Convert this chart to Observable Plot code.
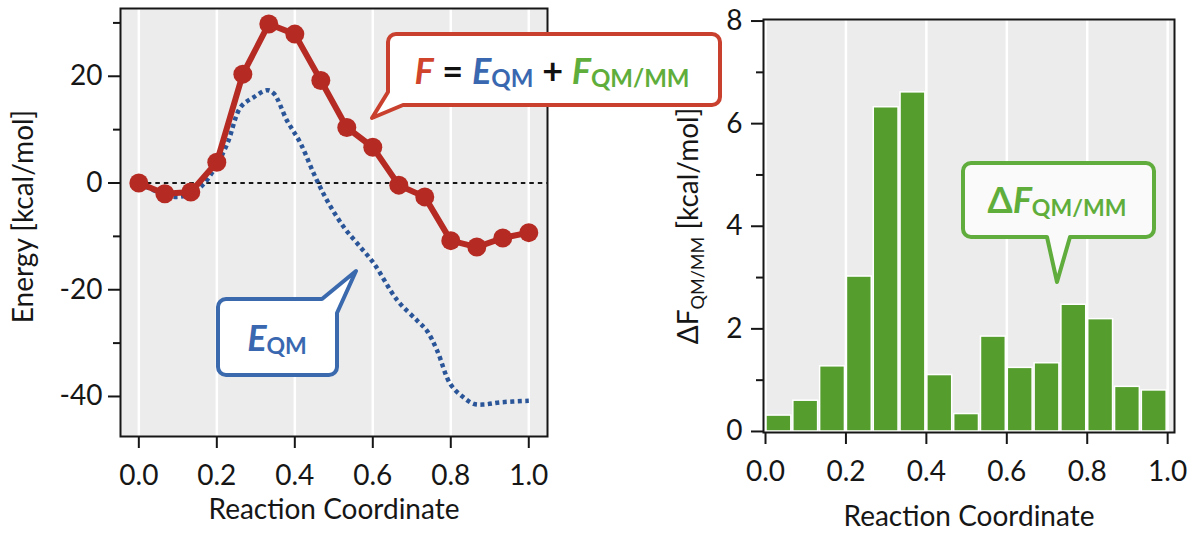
<!DOCTYPE html>
<html><head><meta charset="utf-8">
<script src="https://cdn.jsdelivr.net/npm/d3@7"></script>
<script src="https://cdn.jsdelivr.net/npm/@observablehq/plot@0.6"></script>
<style>
html,body{margin:0;padding:0;background:#fff;}
#wrap{position:relative;width:1197px;height:533px;overflow:hidden;font-family:Lato,sans-serif;}
#left{position:absolute;left:0;top:0;}
#right{position:absolute;left:600px;top:0;}
#overlay{position:absolute;left:0;top:0;}
</style></head><body>
<div id="wrap"><div id="left"></div><div id="right"></div><svg id="overlay" width="1197" height="533"></svg></div>
<script>
// ---- data ----
const coord = [0, 0.0667, 0.1333, 0.2, 0.2667, 0.3333, 0.4, 0.4667, 0.5333, 0.6, 0.6667, 0.7333, 0.8, 0.8667, 0.9333, 1.0];
const freeEnergy = [0, -2.0, -1.7, 3.9, 20.4, 29.8, 27.9, 19.2, 10.4, 6.7, -0.4, -2.6, -10.8, -12.0, -10.3, -9.3];
const eqmCoord = [0, 0.033, 0.067, 0.098, 0.13, 0.158, 0.192, 0.227, 0.261, 0.295, 0.329, 0.346, 0.38, 0.415, 0.449, 0.483, 0.526, 0.568, 0.603, 0.663, 0.714, 0.739, 0.765, 0.799, 0.833, 0.859, 0.885, 0.927, 1.0];
const eqmEnergy = [0, -1.2, -2.2, -2.6, -2.1, -0.8, 2.4, 7.4, 14.2, 16.1, 17.4, 16.8, 11.7, 7.4, 1.7, -3.3, -8.3, -12.0, -15.1, -22.0, -25.8, -27.7, -31.4, -37.7, -40.2, -41.4, -41.5, -41.1, -40.8];
const dFqmmm = [0.31, 0.6, 1.27, 3.02, 6.32, 6.61, 1.1, 0.34, 1.85, 1.24, 1.33, 2.47, 2.19, 0.87, 0.8];
const xTicks = [0, 0.2, 0.4, 0.6, 0.8, 1.0];
const yTicksLeft = [-40, -20, 0, 20];
const yMinorLeft = [-30, -10, 10, 30];
const yTicksRight = [0, 2, 4, 6, 8];
const yMinorRight = [1, 3, 5, 7];

// ---- tables ----
const fTable = coord.map((x, i) => ({x, y: freeEnergy[i]}));
const eqmTable = eqmCoord.map((x, i) => ({x, y: eqmEnergy[i]}));
const bars = dFqmmm.map((v, i) => ({x1: coord[i], x2: coord[i + 1], v}));

const FONT = "Lato, 'Open Sans', sans-serif";
const INK = "#161616";
const leftX = [-0.047, 1.048];
const baseStyle = {fontFamily: FONT, fontSize: "28px", color: INK, background: "transparent", overflow: "visible"};

const left = Plot.plot({
  width: 560, height: 533,
  marginLeft: 120, marginRight: 13, marginTop: 8, marginBottom: 97,
  style: baseStyle,
  x: {domain: leftX, label: null},
  y: {domain: [-47.5, 32.7], label: null},
  marks: [
    Plot.frame({fill: "#ececec"}),
    Plot.ruleX(xTicks, {stroke: "white", strokeWidth: 2.5}),
    Plot.ruleY([0], {x1: 0, x2: leftX[1], stroke: INK, strokeWidth: 2.2, strokeDasharray: "4.5,4"}),
    Plot.line(eqmTable, {x: "x", y: "y", stroke: "#2a5598", strokeWidth: 4.5, strokeDasharray: "4,3.5", strokeLinecap: "butt", curve: "catmull-rom"}),
    Plot.line(fTable, {x: "x", y: "y", stroke: "#b52b23", strokeWidth: 6}),
    Plot.dot(fTable, {x: "x", y: "y", r: 9.5, fill: "#b52b23"}),
    Plot.frame({stroke: INK, strokeWidth: 2}),
    Plot.axisX(xTicks, {tickSize: 12, tickPadding: 17, tickFormat: d3.format(".1f"), strokeWidth: 2, label: null}),
    Plot.axisY(yTicksLeft, {tickSize: 12, tickPadding: 6, tickFormat: d => String(d), strokeWidth: 2, label: null}),
    Plot.axisY(yMinorLeft, {tickSize: 7, tickFormat: () => "", strokeWidth: 2, label: null}),
    Plot.text(["Reaction Coordinate"], {frameAnchor: "bottom", dy: 74, lineAnchor: "middle", textAnchor: "middle", fontSize: 28}),
    Plot.text(["Energy [kcal/mol]"], {frameAnchor: "left", rotate: -90, dx: -96, dy: -6, textAnchor: "middle", fontSize: 28})
  ]
});
document.getElementById("left").appendChild(left);

const right = Plot.plot({
  width: 597, height: 533,
  marginLeft: 163, marginRight: 23, marginTop: 19, marginBottom: 101,
  style: baseStyle,
  x: {domain: [-0.005, 1.017], label: null},
  y: {domain: [-0.02, 8.03], label: null},
  marks: [
    Plot.frame({fill: "#ececec"}),
    Plot.ruleX(xTicks, {stroke: "white", strokeWidth: 2.5}),
    Plot.rectY(bars, {x1: "x1", x2: "x2", y: "v", fill: "#559e2e", stroke: "white", strokeWidth: 1.5, insetLeft: 1, insetRight: 1}),
    Plot.frame({stroke: INK, strokeWidth: 2}),
    Plot.axisX(xTicks, {tickSize: 12, tickPadding: 17, tickFormat: d3.format(".1f"), strokeWidth: 2, label: null}),
    Plot.axisY(yTicksRight, {tickSize: 12, tickPadding: 9, tickFormat: d => String(d), strokeWidth: 2, label: null}),
    Plot.axisY(yMinorRight, {tickSize: 7, tickFormat: () => "", strokeWidth: 2, label: null}),
    Plot.text(["Reaction Coordinate"], {frameAnchor: "bottom", dy: 85, lineAnchor: "middle", textAnchor: "middle", fontSize: 28}),
    Plot.text(["YLABEL_RIGHT"], {frameAnchor: "left", rotate: -90, dx: -74, textAnchor: "middle", fontSize: 28})
  ]
});
document.getElementById("right").appendChild(right);

// rich y label with subscript
d3.select(right).selectAll("text").filter(function () { return this.textContent === "YLABEL_RIGHT"; })
  .each(function () {
    const t = d3.select(this);
    t.text(null);
    t.append("tspan").text("ΔF");
    t.append("tspan").attr("font-size", 18).attr("dy", 6).text("QM/MM");
    t.append("tspan").attr("dy", -6).text(" [kcal/mol]");
  });

// ---- callouts (annotation overlay) ----
const ov = d3.select("#overlay");
const r = 8;
function calloutPath(kind) {
  if (kind === "red") {
    const x0 = 388, y0 = 34, x1 = 720, y1 = 105;
    return `M${x0 + r},${y0}H${x1 - r}A${r},${r} 0 0 1 ${x1},${y0 + r}V${y1 - r}A${r},${r} 0 0 1 ${x1 - r},${y1}H403L372,118L${x0},92V${y0 + r}A${r},${r} 0 0 1 ${x0 + r},${y0}Z`;
  }
  if (kind === "blue") {
    const x0 = 218, y0 = 299, x1 = 337, y1 = 375;
    return `M${x0 + r},${y0}H322L356,271L${x1},313V${y1 - r}A${r},${r} 0 0 1 ${x1 - r},${y1}H${x0 + r}A${r},${r} 0 0 1 ${x0},${y1 - r}V${y0 + r}A${r},${r} 0 0 1 ${x0 + r},${y0}Z`;
  }
  const x0 = 963, y0 = 163, x1 = 1154, y1 = 237;
  return `M${x0 + r},${y0}H${x1 - r}A${r},${r} 0 0 1 ${x1},${y0 + r}V${y1 - r}A${r},${r} 0 0 1 ${x1 - r},${y1}H1070L1057,282L1047,${y1}H${x0 + r}A${r},${r} 0 0 1 ${x0},${y1 - r}V${y0 + r}A${r},${r} 0 0 1 ${x0 + r},${y0}Z`;
}
const RED = "#c9412e", BLUE = "#3b69ae", GREEN = "#60ad3d";
ov.append("path").attr("d", calloutPath("red")).attr("fill", "white").attr("stroke", RED).attr("stroke-width", 4).attr("stroke-linejoin", "round");
ov.append("path").attr("d", calloutPath("blue")).attr("fill", "white").attr("stroke", BLUE).attr("stroke-width", 4).attr("stroke-linejoin", "round");
ov.append("path").attr("d", calloutPath("green")).attr("fill", "#fafafa").attr("stroke", GREEN).attr("stroke-width", 4).attr("stroke-linejoin", "round");

function rich(x, y, size, parts) {
  const t = ov.append("text").attr("x", x).attr("y", y).attr("text-anchor", "middle")
    .attr("font-family", FONT).attr("font-weight", 700).attr("font-size", size);
  for (const p of parts) {
    const s = t.append("tspan").text(p.t).attr("fill", p.c);
    if (p.i) s.attr("font-style", "italic");
    if (p.s) s.attr("font-size", p.s);
    if (p.dy) s.attr("dy", p.dy);
  }
  return t;
}
rich(552, 84, 36, [
  {t: "F", c: "#d0442c", i: true},
  {t: " = ", c: "#111"},
  {t: "E", c: "#3a68b0", i: true},
  {t: "QM", c: "#3a68b0", s: 24, dy: 3},
  {t: " + ", c: "#111", dy: -3},
  {t: "F", c: "#5fae3c", i: true},
  {t: "QM/MM", c: "#5fae3c", s: 24, dy: 3}
]);
rich(277, 351, 36, [
  {t: "E", c: "#3a68b0", i: true},
  {t: "QM", c: "#3a68b0", s: 23, dy: 3}
]);
rich(1057, 213, 36, [
  {t: "Δ", c: "#5fae3c"},
  {t: "F", c: "#5fae3c", i: true},
  {t: "QM/MM", c: "#5fae3c", s: 23, dy: 3}
]);
</script>
</body></html>
